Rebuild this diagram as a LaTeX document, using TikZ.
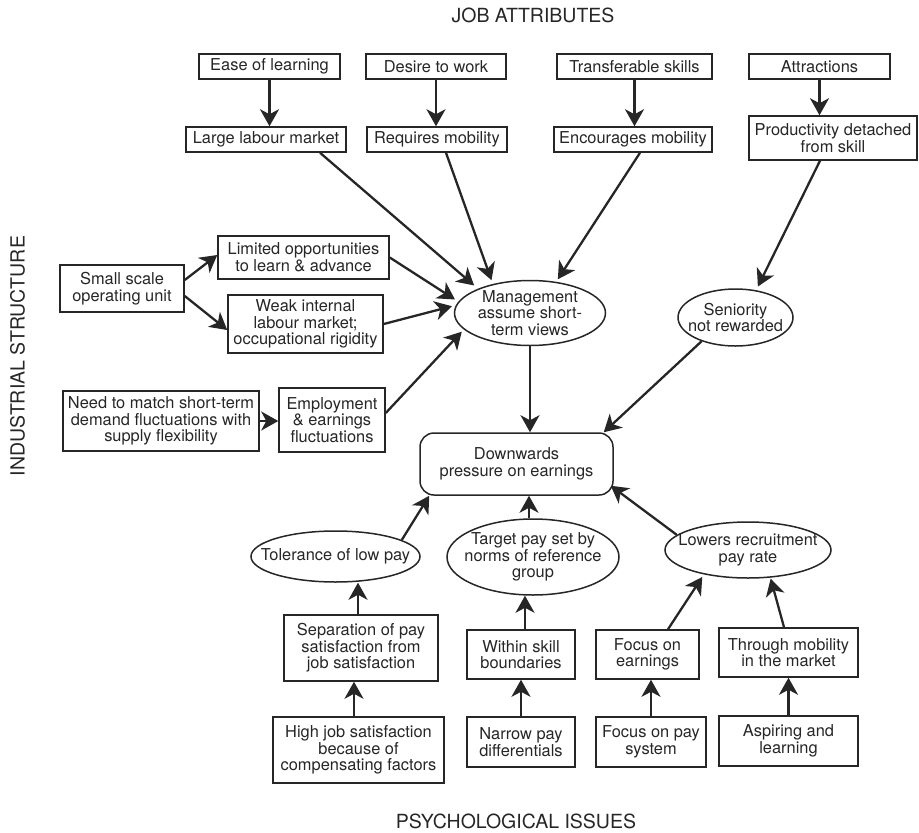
\documentclass[tikz,border=0pt]{standalone}
\usepackage{fontspec}
\setmainfont{TeX Gyre Heros}
\usetikzlibrary{arrows.meta,shapes.geometric}
\definecolor{ink}{RGB}{38,38,38}
\begin{document}
\begin{tikzpicture}[x=1pt,y=-1pt,
  every node/.style={text=ink, font=\fontsize{16.4}{16.6}\selectfont},
  sz/.style 2 args={minimum width=#1pt, minimum height=#2pt},
  box/.style={draw=ink, line width=1.5pt, rectangle, inner sep=0pt, align=center},
  oval/.style={draw=ink, line width=1.5pt, ellipse, inner xsep=-15pt, inner ysep=-6pt, align=center},
  rbox/.style={box, rounded corners=14pt},
  heading/.style={font=\fontsize{19.5}{20}\selectfont},
  link/.style={draw=ink, line width=2.3pt, -{Stealth[length=17pt,width=19pt,inset=5pt]}},
]
\useasboundingbox (0,0) rectangle (919,833);

% section headings
\node[heading] (tjob) at (533,15.5) {JOB ATTRIBUTES};
\node[heading] (tpsy) at (516,821) {PSYCHOLOGICAL ISSUES};
\node[heading, rotate=90] (tind) at (17.5,356) {INDUSTRIAL STRUCTURE};

% job attributes
\node[box, sz={141}{25}] (ease)   at (269.5,66.5) {Ease of learning};
\node[box, sz={140}{25}] (desire) at (436,66.5)   {Desire to work};
\node[box, sz={155}{25}] (transf) at (634.5,66.5) {Transferable skills};
\node[box, sz={141}{25}] (attr)   at (819.5,66.5) {Attractions};

\node[box, sz={160}{25}] (large)  at (266,139.5) {Large labour market};
\node[box, sz={140}{25}] (reqmob) at (437,139.5) {Requires mobility};
\node[box, sz={158}{25}] (encmob) at (633,139.5) {Encourages mobility};
\node[box, sz={168}{44}] (prod)   at (833,138)   {Productivity detached\\from skill};

% industrial structure
\node[box, sz={124}{47}] (small)   at (122,288.5) {Small scale\\operating unit};
\node[box, sz={171}{43}] (limited) at (303.5,257.5) {Limited opportunities\\to learn \& advance};
\node[box, sz={155}{58}] (weak)    at (305.5,324) {Weak internal\\labour market;\\occupational rigidity};
\node[box, sz={196}{60}] (need)    at (161,421) {Need to match short-term\\demand fluctuations with\\supply flexibility};
\node[box, sz={106}{64}] (employ)  at (332,420) {Employment\\\& earnings\\fluctuations};

% central outcomes
\node[oval, sz={151}{65}] (mgmt)   at (530,313)   {Management\\assume short-\\term views};
\node[oval, sz={115}{57}] (senior) at (735.5,317.5) {Seniority\\not rewarded};
\node[rbox, sz={193}{62}] (down)   at (516.5,464) {Downwards\\pressure on earnings};

% psychological issues
\node[oval, sz={169}{51}] (toler)  at (335.5,556.5) {Tolerance of low pay};
\node[oval, sz={172}{76}] (target) at (533,557) {Target pay set by\\norms of reference\\group};
\node[oval, sz={166}{56}] (lowers) at (748,550) {Lowers recruitment\\pay rate};

\node[box, sz={154}{66}] (sep)     at (361,648)   {Separation of pay\\satisfaction from\\job satisfaction};
\node[box, sz={108}{49}] (within)  at (521,654.5) {Within skill\\boundaries};
\node[box, sz={103}{49}] (focE)    at (647.5,654.5) {Focus on\\earnings};
\node[box, sz={139}{49}] (through) at (788.5,652.5) {Through mobility\\in the market};

\node[box, sz={171}{66}] (high)    at (358.5,750) {High job satisfaction\\because of\\compensating factors};
\node[box, sz={108}{50}] (narrow)  at (521,742)   {Narrow pay\\differentials};
\node[box, sz={110}{50}] (focP)    at (651,742)   {Focus on pay\\system};
\node[box, sz={139}{50}] (aspire)  at (788.5,741) {Aspiring and\\learning};

% job attribute links
\draw[link] (ease.south)   -- (ease.south |- large.north);
\draw[link] (desire.south) -- (desire.south |- reqmob.north);
\draw[link] (transf.south) -- (transf.south |- encmob.north);
\draw[link] (attr.south)   -- (attr.south |- prod.north);

\draw[link, shorten >=5pt] ([xshift=54pt]large.south) -- (mgmt.155);
\draw[link, shorten >=4pt] ([xshift=9pt]reqmob.south) -- (mgmt.142);
\draw[link, shorten >=3pt] ([xshift=7pt]encmob.south) -- (mgmt.50);
\draw[link, shorten >=4pt] ([xshift=-13pt]prod.south) -- (senior.53.6);

% industrial structure links
\draw[link] ([yshift=8.5pt]small.east) -- ([yshift=2.5pt]limited.west);
\draw[link] ([yshift=-7.5pt]small.east) -- ([yshift=-6pt]weak.west);
\draw[link] (need.east) -- (need.east -| employ.west);
\draw[link, shorten >=4pt] (limited.east) -- (mgmt.171.5);
\draw[link, shorten >=4pt] (weak.east) -- (mgmt.174.7);
\draw[link, shorten >=3pt] ([yshift=7pt]employ.east) -- (mgmt.194);

% into downward pressure
\draw[link] (mgmt.south) -- (mgmt.south |- down.north);
\draw[link] (senior.215) -- ([xshift=-10pt]down.north east);
\draw[link] (toler.14) -- ([xshift=10pt]down.south west);
\draw[link] ([xshift=-4pt]target.north) -- ([xshift=-4pt]target.north |- down.south);
\draw[link] (lowers.168) -- ([xshift=-3pt,yshift=10pt]down.south east);

% psychological issue links
\draw[link] ([xshift=-3pt]sep.north) -- ([xshift=-3pt]sep.north |- toler.south);
\draw[link] ([xshift=-4.5pt]high.north) -- ([xshift=-4.5pt]high.north |- sep.south);
\draw[link] ([xshift=4pt]within.north) -- ([xshift=4pt]within.north |- target.south);
\draw[link] (narrow.north) -- (narrow.north |- within.south);
\draw[link, shorten >=3pt] ([xshift=20.5pt]focE.north) -- (lowers.209);
\draw[link, shorten >=1pt] ([xshift=-4.5pt]through.north) -- (lowers.309);
\draw[link] (focP.north) -- (focP.north |- focE.south);
\draw[link] (aspire.north) -- (aspire.north |- through.south);
\end{tikzpicture}
\end{document}
